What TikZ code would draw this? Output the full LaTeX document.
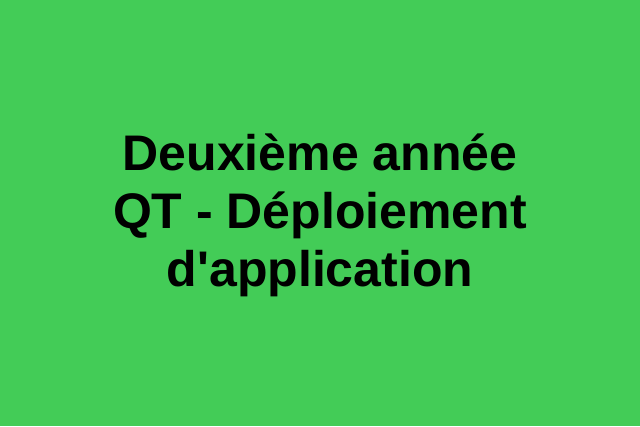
\documentclass[tikz,border=0pt]{standalone}
\usepackage{fontspec}
\setmainfont{Liberation Sans}
\usetikzlibrary{positioning}
\definecolor{bggreen}{RGB}{67,204,87}

\begin{document}
\begin{tikzpicture}[
    x=1bp, y=1bp,
    every node/.style={font=\bfseries\fontsize{50bp}{58bp}\selectfont},
    titletext/.style={align=center, inner sep=0pt, text=black}
]

% Background
\fill[bggreen] (0,0) rectangle (640,426);
\useasboundingbox (0,0) rectangle (640,426);

% Title
\node[titletext] (title) at (320,211) {Deuxième année\\QT - Déploiement\\d\textquotesingle application};

\end{tikzpicture}
\end{document}
